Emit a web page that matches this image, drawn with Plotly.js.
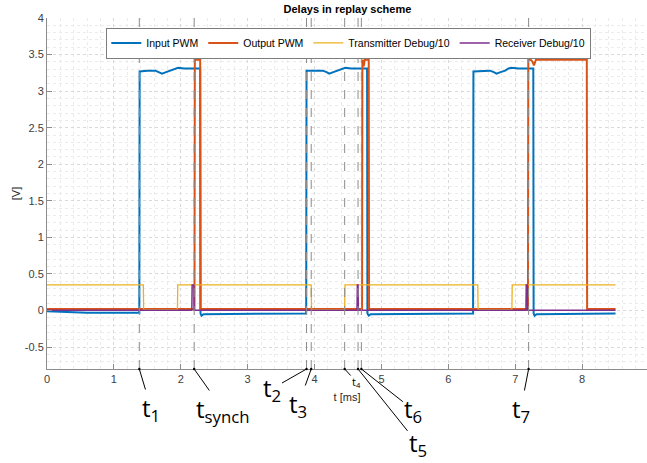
<!DOCTYPE html>
<html>
<head>
<meta charset="utf-8">
<script src="https://cdn.plot.ly/plotly-3.0.1.min.js"></script>
<style>html,body{margin:0;padding:0;background:#fff;}#chart{width:647px;height:463px;}</style>
</head>
<body>
<div id="chart"></div>
<script>
// ---- data (time in ms, values in V) ----
const inputT = [0, 0.3, 0.6, 1.0, 1.38, 1.385, 1.5, 1.62, 1.68, 1.72, 1.78, 1.85, 1.92, 1.96, 2.05, 2.15, 2.29, 2.295, 2.31, 2.34, 2.4, 2.6, 3.0, 3.5, 3.875, 3.88, 4.0, 4.12, 4.18, 4.22, 4.28, 4.35, 4.42, 4.46, 4.55, 4.65, 4.785, 4.79, 4.81, 4.84, 4.9, 5.5, 6.0, 6.37, 6.375, 6.5, 6.62, 6.68, 6.72, 6.78, 6.85, 6.9, 6.94, 7.05, 7.15, 7.27, 7.275, 7.29, 7.32, 7.4, 8.0, 8.5];
const inputV = [-0.01, -0.02, -0.03, -0.03, -0.03, 3.27, 3.28, 3.28, 3.26, 3.24, 3.26, 3.28, 3.31, 3.32, 3.31, 3.31, 3.31, -0.04, -0.07, -0.05, -0.05, -0.04, -0.04, -0.04, -0.04, 3.28, 3.28, 3.28, 3.26, 3.24, 3.26, 3.28, 3.31, 3.32, 3.31, 3.31, 3.31, -0.04, -0.07, -0.05, -0.05, -0.04, -0.04, -0.04, 3.27, 3.28, 3.28, 3.26, 3.24, 3.26, 3.28, 3.31, 3.32, 3.31, 3.31, 3.31, -0.04, -0.07, -0.05, -0.05, -0.04, -0.04];

const outputT = [0, 2.205, 2.21, 2.29, 2.295, 4.71, 4.715, 4.735, 4.75, 4.765, 4.81, 4.815, 7.19, 7.195, 7.23, 7.26, 7.28, 7.31, 8.07, 8.075, 8.5];
const outputV = [0.02, 0.02, 3.43, 3.43, 0.02, 0.02, 3.43, 3.34, 3.43, 3.43, 3.43, 0.02, 0.02, 3.43, 3.43, 3.40, 3.35, 3.43, 3.43, 0.02, 0.02];

const txT = [0, 1.44, 1.445, 1.95, 1.955, 3.95, 3.955, 4.45, 4.455, 6.44, 6.445, 6.95, 6.955, 8.5];
const txV = [0.35, 0.35, 0.01, 0.01, 0.35, 0.35, 0.01, 0.01, 0.35, 0.35, 0.01, 0.01, 0.35, 0.35];

const rxT = [0, 2.165, 2.17, 2.195, 2.2, 4.635, 4.64, 4.65, 4.655, 7.16, 7.165, 7.18, 7.185, 8.5];
const rxV = [0.005, 0.005, 0.35, 0.35, 0.005, 0.005, 0.35, 0.35, 0.005, 0.005, 0.35, 0.35, 0.005, 0.005];

const seriesNames = ['Input PWM', 'Output PWM', 'Transmitter Debug/10', 'Receiver Debug/10'];

// event markers
const eventT = [1.38, 2.20, 3.88, 3.95, 4.45, 4.65, 4.70, 7.20];
const eventLabels = ['t<sub>1</sub>', 't<sub>synch</sub>', 't<sub>2</sub>', 't<sub>3</sub>', 't<sub>4</sub>', 't<sub>5</sub>', 't<sub>6</sub>', 't<sub>7</sub>'];

const xTickVals = [0, 1, 2, 3, 4, 5, 6, 7, 8, 9];
const yTickVals = [-0.5, 0, 0.5, 1, 1.5, 2, 2.5, 3, 3.5, 4];

// ---- presentation ----
const colors = ['#0072BD', '#D95319', '#EDB120', '#7E2F8E'];
const widths = [2, 2, 1.3, 1.5];
const xs = [inputT, outputT, txT, rxT];
const ys = [inputV, outputV, txV, rxV];
const traces = seriesNames.map((n, i) => ({
  x: xs[i], y: ys[i], name: n, type: 'scatter', mode: 'lines',
  line: {color: colors[i], width: widths[i]}
}));

// label offsets (pixels) and sizes
const labelOff = [[12, 40], [29, 41], [-35, 20], [-13, 36], [12, 13], [60, 75], [52, 41], [-8, 41]];
const labelSize = [24, 24, 24, 24, 11, 24, 24, 24];

const yMin = -0.8, yMax = 4;
const shapes = eventT.map(t => ({
  type: 'line', xref: 'x', yref: 'y', x0: t, x1: t, y0: yMin, y1: yMax,
  line: {color: '#8c8c8c', width: 1, dash: 'dash'}, layer: 'above'
}));
const annotations = eventT.map((t, i) => ({
  x: t, y: yMin, xref: 'x', yref: 'y', text: eventLabels[i],
  showarrow: true, ax: labelOff[i][0], ay: labelOff[i][1],
  arrowhead: 6, arrowsize: 0.6, arrowwidth: 1, arrowcolor: '#000',
  font: {family: 'Open Sans, Noto Sans, sans-serif', size: labelSize[i], color: '#000'},
  xanchor: 'center', yanchor: 'middle'
}));

const gridMajor = '#d9d9d9', gridMinor = '#ebebeb';
const layout = {
  width: 647, height: 463,
  margin: {l: 47, r: 0, t: 18, b: 94},
  paper_bgcolor: '#fff', plot_bgcolor: '#fff',
  font: {family: 'Liberation Sans, Arial, sans-serif', size: 11, color: '#262626'},
  title: {text: '<b>Delays in replay scheme</b>', font: {size: 11, color: '#000'},
          x: 0.537, xanchor: 'center', y: 0.981, yanchor: 'middle'},
  showlegend: true,
  legend: {orientation: 'h', x: 0.502, xanchor: 'center', y: 0.972, yanchor: 'top',
           bgcolor: '#fff', bordercolor: '#262626', borderwidth: 0.6,
           font: {size: 10.5, color: '#000'}, itemwidth: 30, tracegroupgap: 0},
  xaxis: {
    range: [0, 8.97], tickvals: xTickVals, ticktext: xTickVals.map(String),
    showline: true, linecolor: '#8c8c8c', linewidth: 1,
    ticks: 'inside', ticklen: 5, tickcolor: '#8c8c8c',
    showgrid: true, gridcolor: gridMajor, griddash: 'dot', gridwidth: 1,
    minor: {dtick: 0.2, showgrid: true, gridcolor: gridMinor, griddash: 'dot', ticks: ''},
    zeroline: false,
    tickfont: {size: 11, color: '#404040'},
    title: {text: 't [ms]', font: {size: 11, color: '#262626'}, standoff: 9}
  },
  yaxis: {
    range: [yMin, yMax], tickvals: yTickVals, ticktext: yTickVals.map(String),
    showline: true, linecolor: '#8c8c8c', linewidth: 1,
    ticks: 'inside', ticklen: 5, tickcolor: '#8c8c8c',
    showgrid: true, gridcolor: gridMajor, griddash: 'dot', gridwidth: 1,
    minor: {dtick: 0.1, showgrid: true, gridcolor: gridMinor, griddash: 'dot', ticks: ''},
    zeroline: false,
    tickfont: {size: 11, color: '#404040'},
    title: {text: '[V]', font: {size: 11, color: '#262626'}, standoff: 1}
  },
  shapes: shapes,
  annotations: annotations
};

Plotly.newPlot('chart', traces, layout, {displayModeBar: false, staticPlot: true});
</script>
</body>
</html>
